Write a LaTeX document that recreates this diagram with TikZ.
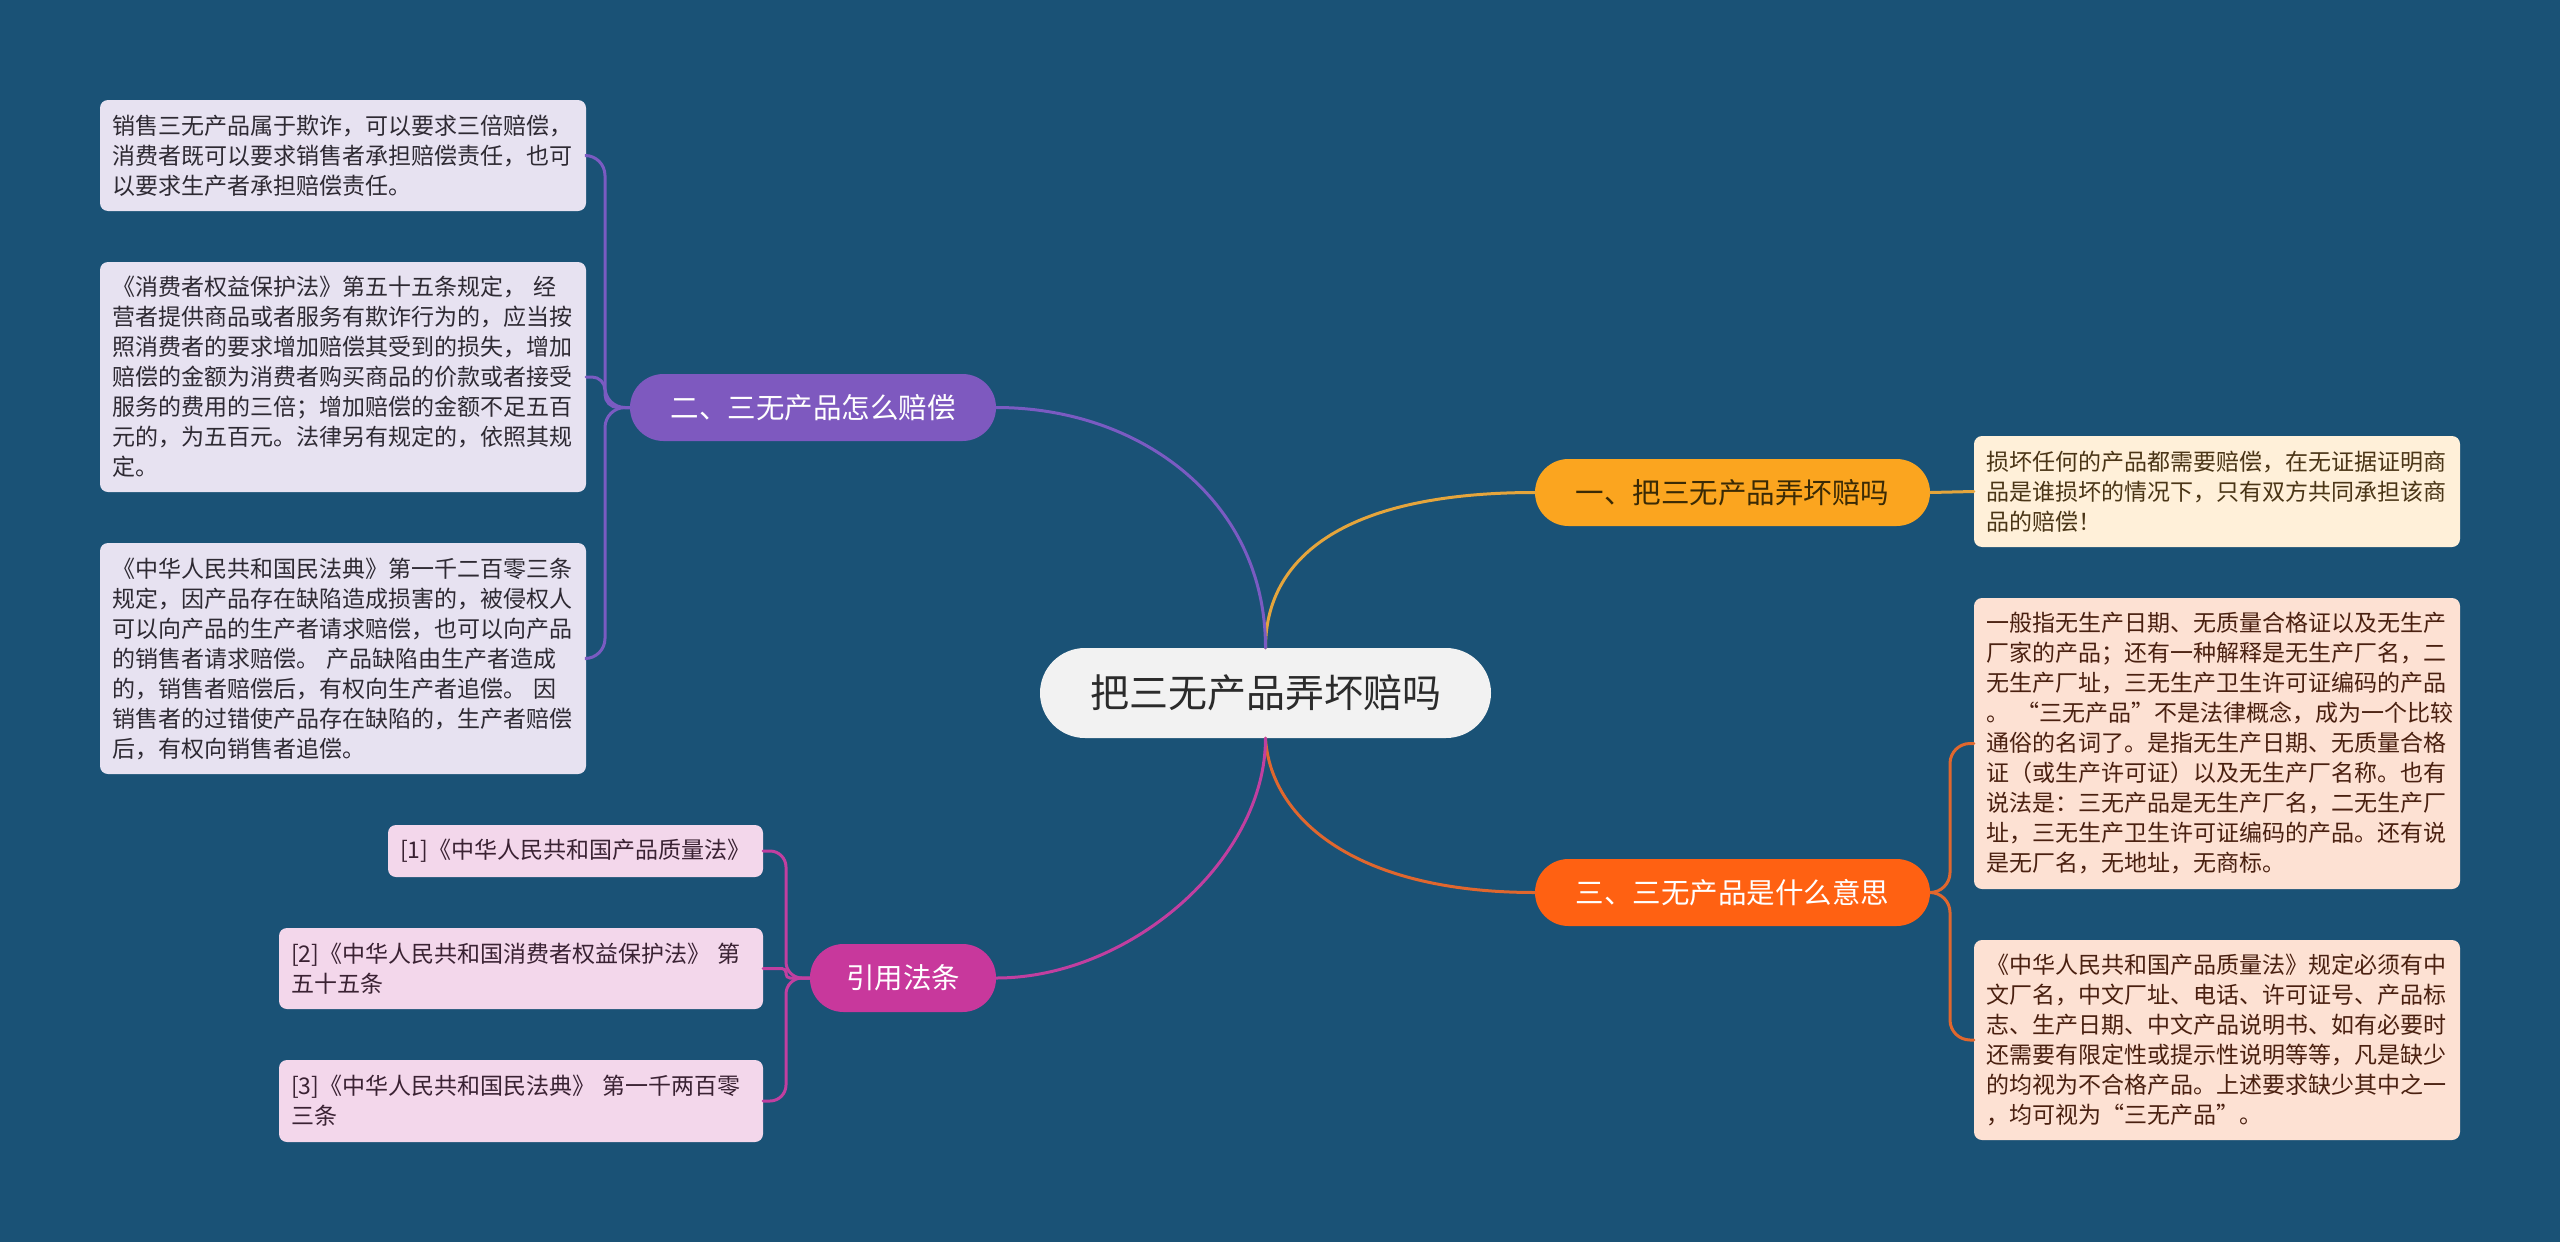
\documentclass[tikz,border=0pt]{standalone}
\usepackage{fontspec}
\newfontfamily\cjk{Noto Sans CJK SC}
\definecolor{bgc}{HTML}{1A5276}
\definecolor{ctrfill}{HTML}{F2F2F2}
\definecolor{ctrtext}{HTML}{2B2B2B}
\definecolor{bAfill}{HTML}{FBA51F}
\definecolor{bAtext}{HTML}{3A2A05}
\definecolor{bAline}{HTML}{E5A53C}
\definecolor{bBfill}{HTML}{7E59BF}
\definecolor{bBline}{HTML}{7A5BC2}
\definecolor{bCfill}{HTML}{FF6112}
\definecolor{bCline}{HTML}{E0672E}
\definecolor{bDfill}{HTML}{C8389C}
\definecolor{bDline}{HTML}{C13FA0}
\definecolor{lfill}{HTML}{E7E2F1}
\definecolor{ltext}{HTML}{2E2A33}
\definecolor{cfill}{HTML}{F3D7EB}
\definecolor{ctext}{HTML}{3A2233}
\definecolor{rAfill}{HTML}{FFF0D9}
\definecolor{rAtext}{HTML}{4A3516}
\definecolor{rBfill}{HTML}{FDE1D3}
\definecolor{rBtext}{HTML}{4A2010}
\begin{document}
\begin{tikzpicture}[x=1pt,y=-1pt,
  ctrnode/.style={fill=ctrfill, text=ctrtext, rounded corners=45, minimum width=451, minimum height=90, inner sep=0, font=\cjk\fontsize{39}{45}\selectfont},
  branchnode/.style={rounded corners=33.5, minimum height=67, inner sep=0, font=\cjk\fontsize{28.5}{34}\selectfont},
  leafnode/.style={rounded corners=8, inner xsep=12, inner ysep=0, align=left, font=\cjk\fontsize{23}{30}\selectfont},
  lbox/.style={leafnode, fill=lfill, text=ltext, text width=462},
  cbox/.style={leafnode, fill=cfill, text=ctext},
  rAbox/.style={leafnode, fill=rAfill, text=rAtext, text width=462},
  rBbox/.style={leafnode, fill=rBfill, text=rBtext, text width=462},
  link/.style={line width=3, line cap=round}
]
\useasboundingbox (0,0) rectangle (2560,1242);
\fill[bgc] (0,0) rectangle (2560,1242);

% central and branch nodes
\node[ctrnode] (ctr) at (1265.5,693) {把三无产品弄坏赔吗};
\node[branchnode, fill=bAfill, text=bAtext, minimum width=395] (b1) at (1732.5,492.5) {一、把三无产品弄坏赔吗};
\node[branchnode, fill=bCfill, text=white, minimum width=395] (b3) at (1732.5,892.5) {三、三无产品是什么意思};
\node[branchnode, fill=bBfill, text=white, minimum width=366] (b2) at (813,407.5) {二、三无产品怎么赔偿};
\node[branchnode, fill=bDfill, text=white, minimum width=186, minimum height=68] (b4) at (903,978) {引用法条};

% left leaves
\node[lbox, minimum height=111] (l1) at (343,155.5) {销售三无产品属于欺诈，可以要求三倍赔偿，\\消费者既可以要求销售者承担赔偿责任，也可\\以要求生产者承担赔偿责任。};
\node[lbox, minimum height=230] (l2) at (343,377) {《消费者权益保护法》第五十五条规定， 经\\营者提供商品或者服务有欺诈行为的，应当按\\照消费者的要求增加赔偿其受到的损失，增加\\赔偿的金额为消费者购买商品的价款或者接受\\服务的费用的三倍；增加赔偿的金额不足五百\\元的，为五百元。法律另有规定的，依照其规\\定。};
\node[lbox, minimum height=231] (l3) at (343,658.5) {《中华人民共和国民法典》第一千二百零三条\\规定，因产品存在缺陷造成损害的，被侵权人\\可以向产品的生产者请求赔偿，也可以向产品\\的销售者请求赔偿。 产品缺陷由生产者造成\\的，销售者赔偿后，有权向生产者追偿。 因\\销售者的过错使产品存在缺陷的，生产者赔偿\\后，有权向销售者追偿。};

% citation leaves
\node[cbox, text width=351, minimum height=52] (c1) at (575.5,851) {[1]《中华人民共和国产品质量法》};
\node[cbox, text width=460, minimum height=81] (c2) at (521,968.5) {[2]《中华人民共和国消费者权益保护法》 第\\五十五条};
\node[cbox, text width=460, minimum height=82] (c3) at (521,1101) {[3]《中华人民共和国民法典》 第一千两百零\\三条};

% right leaves
\node[rAbox, minimum height=111] (r1) at (2217,491.5) {损坏任何的产品都需要赔偿，在无证据证明商\\品是谁损坏的情况下，只有双方共同承担该商\\品的赔偿！};
\node[rBbox, minimum height=291] (r2) at (2217,743.5) {一般指无生产日期、无质量合格证以及无生产\\厂家的产品；还有一种解释是无生产厂名，二\\无生产厂址，三无生产卫生许可证编码的产品\\。 “三无产品”不是法律概念，成为一个比较\\通俗的名词了。是指无生产日期、无质量合格\\证（或生产许可证）以及无生产厂名称。也有\\说法是：三无产品是无生产厂名，二无生产厂\\址，三无生产卫生许可证编码的产品。还有说\\是无厂名，无地址，无商标。};
\node[rBbox, minimum height=200] (r3) at (2217,1040) {《中华人民共和国产品质量法》规定必须有中\\文厂名，中文厂址、电话、许可证号、产品标\\志、生产日期、中文产品说明书、如有必要时\\还需要有限定性或提示性说明等等，凡是缺少\\的均视为不合格产品。上述要求缺少其中之一\\，均可视为“三无产品”。};

% center to branches
\draw[link, bAline] (ctr.north) .. controls (1265.5,560) and (1340,492.5) .. (b1.west);
\draw[link, bBline] (ctr.north) .. controls (1265.5,500) and (1140,407.5) .. (b2.east);
\draw[link, bCline] (ctr.south) .. controls (1270,815) and (1350,892.5) .. (b3.west);
\draw[link, bDline] (ctr.south) .. controls (1265.5,860) and (1130,978) .. (b4.east);

% branch to leaves
\draw[link, bAline] (b1.east) -- (r1.west);
\draw[link, bBline, rounded corners=20] (b2.west) -- (605,407.5) -- (605,155.5) -- (l1.east);
\draw[link, bBline, rounded corners=13] (b2.west) -- (605,407.5) -- (605,377) -- (l2.east);
\draw[link, bBline, rounded corners=20] (b2.west) -- (605,407.5) -- (605,658.5) -- (l3.east);
\draw[link, bCline, rounded corners=20] (b3.east) -- (1950,892.5) -- (1950,743.5) -- (r2.west);
\draw[link, bCline, rounded corners=20] (b3.east) -- (1950,892.5) -- (1950,1040) -- (r3.west);
\draw[link, bDline, rounded corners=16] (b4.west) -- (786,978) -- (786,851) -- (c1.east);
\draw[link, bDline, rounded corners=4] (b4.west) -- (786,978) -- (786,968.5) -- (c2.east);
\draw[link, bDline, rounded corners=16] (b4.west) -- (786,978) -- (786,1101) -- (c3.east);
\end{tikzpicture}
\end{document}
